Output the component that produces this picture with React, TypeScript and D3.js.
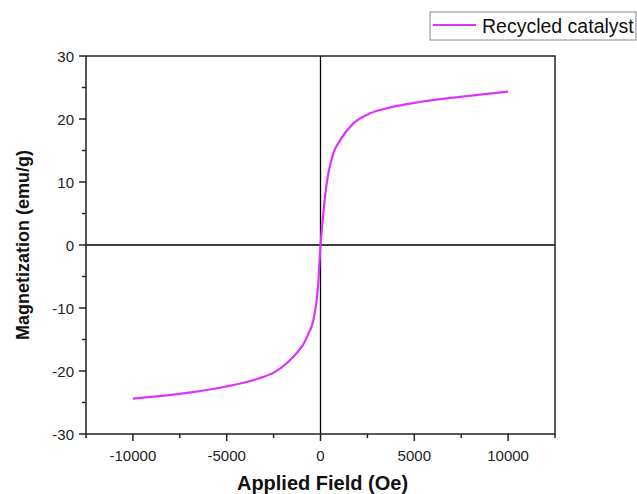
import React, { useRef, useEffect } from 'react';
import * as d3 from 'd3';

// M-H loop
const fieldOe = [-10000, -8600, -6900, -5100, -3300, -2400, -1700, -1200, -830, -680, -380, -120, 0, 120, 240, 420, 680, 1040, 1750, 2640, 3530, 5300, 7100, 8860, 10000];
const magnetization = [-24.4, -24.0, -23.4, -22.5, -21.2, -20.1, -18.5, -16.9, -15.3, -14.3, -11.9, -6.1, 0, 4.0, 7.7, 11.4, 14.5, 16.6, 19.3, 20.9, 21.7, 22.7, 23.4, 24.0, 24.35];

const xMajor = [-10000, -5000, 0, 5000, 10000];
const xMinor = [-12500, -7500, -2500, 2500, 7500, 12500];
const yMajor = [-30, -20, -10, 0, 10, 20, 30];
const yMinor = [-25, -15, -5, 5, 15, 25];

const seriesName = 'Recycled catalyst';
const xTitle = 'Applied Field (Oe)';
const yTitle = 'Magnetization (emu/g)';

const App = () => {
  const ref = useRef<SVGSVGElement>(null);

  useEffect(() => {
    const width = 637;
    const height = 494;
    const margin = { top: 56, right: 82, bottom: 60, left: 86 };
    const color = '#dd33ff';
    const axisColor = '#222';
    const font = 'Liberation Sans, Arial, sans-serif';

    const svg = d3.select(ref.current);
    svg.selectAll('*').remove();

    const x = d3.scaleLinear().domain([-12500, 12500]).range([margin.left, width - margin.right]);
    const y = d3.scaleLinear().domain([-30, 30]).range([height - margin.bottom, margin.top]);

    // zero lines
    svg.append('line')
      .attr('x1', x(0)).attr('x2', x(0))
      .attr('y1', y(30)).attr('y2', y(-30))
      .attr('stroke', '#000').attr('stroke-width', 1.3);
    svg.append('line')
      .attr('x1', x(-12500)).attr('x2', x(12500))
      .attr('y1', y(0)).attr('y2', y(0))
      .attr('stroke', '#000').attr('stroke-width', 1.3);

    // curve
    const pts = fieldOe.map((h, i) => [h, magnetization[i]] as [number, number]);
    svg.append('path')
      .datum(pts)
      .attr('d', d3.line<[number, number]>()
        .x(d => x(d[0]))
        .y(d => y(d[1]))
        .curve(d3.curveMonotoneX))
      .attr('fill', 'none')
      .attr('stroke', color)
      .attr('stroke-width', 2.2);

    // frame
    svg.append('rect')
      .attr('x', x(-12500)).attr('y', y(30))
      .attr('width', x(12500) - x(-12500))
      .attr('height', y(-30) - y(30))
      .attr('fill', 'none')
      .attr('stroke', axisColor)
      .attr('stroke-width', 1.5);

    // bottom axis ticks
    const bottom = svg.append('g').attr('stroke', axisColor).attr('stroke-width', 1.5);
    bottom.selectAll('line.maj').data(xMajor).join('line')
      .attr('class', 'maj')
      .attr('x1', d => x(d)).attr('x2', d => x(d))
      .attr('y1', y(-30)).attr('y2', y(-30) + 7);
    bottom.selectAll('line.min').data(xMinor).join('line')
      .attr('class', 'min')
      .attr('x1', d => x(d)).attr('x2', d => x(d))
      .attr('y1', y(-30)).attr('y2', y(-30) + 4);

    svg.append('g').selectAll('text').data(xMajor).join('text')
      .attr('x', d => x(d))
      .attr('y', y(-30) + 27)
      .attr('text-anchor', 'middle')
      .attr('font-family', font)
      .attr('font-size', 15)
      .attr('fill', '#222')
      .text(d => d);

    // left axis ticks
    const left = svg.append('g').attr('stroke', axisColor).attr('stroke-width', 1.5);
    left.selectAll('line.maj').data(yMajor).join('line')
      .attr('class', 'maj')
      .attr('x1', x(-12500) - 7).attr('x2', x(-12500))
      .attr('y1', d => y(d)).attr('y2', d => y(d));
    left.selectAll('line.min').data(yMinor).join('line')
      .attr('class', 'min')
      .attr('x1', x(-12500) - 4).attr('x2', x(-12500))
      .attr('y1', d => y(d)).attr('y2', d => y(d));

    svg.append('g').selectAll('text').data(yMajor).join('text')
      .attr('x', x(-12500) - 12)
      .attr('y', d => y(d) + 5.5)
      .attr('text-anchor', 'end')
      .attr('font-family', font)
      .attr('font-size', 15)
      .attr('fill', '#222')
      .text(d => d);

    // axis titles
    svg.append('text')
      .attr('x', (x(-12500) + x(12500)) / 2 + 2)
      .attr('y', 490)
      .attr('text-anchor', 'middle')
      .attr('font-family', font)
      .attr('font-size', 20)
      .attr('font-weight', 'bold')
      .attr('fill', '#111')
      .text(xTitle);

    svg.append('text')
      .attr('transform', `translate(29,${(y(30) + y(-30)) / 2}) rotate(-90)`)
      .attr('text-anchor', 'middle')
      .attr('font-family', font)
      .attr('font-size', 18)
      .attr('font-weight', 'bold')
      .attr('fill', '#111')
      .text(yTitle);

    // legend
    const lg = svg.append('g').attr('transform', 'translate(430,12)');
    lg.append('rect')
      .attr('width', 206).attr('height', 28)
      .attr('fill', '#fff')
      .attr('stroke', '#888').attr('stroke-width', 1);
    lg.append('line')
      .attr('x1', 3).attr('x2', 46)
      .attr('y1', 13).attr('y2', 13)
      .attr('stroke', color).attr('stroke-width', 2);
    lg.append('text')
      .attr('x', 52).attr('y', 21)
      .attr('font-family', font)
      .attr('font-size', 19.5)
      .attr('fill', '#111')
      .text(seriesName);
  }, []);

  return (
    <svg
      ref={ref}
      width={637}
      height={494}
      style={{ position: 'absolute', left: 0, top: 0, background: '#fff' }}
    />
  );
};

export default App;
